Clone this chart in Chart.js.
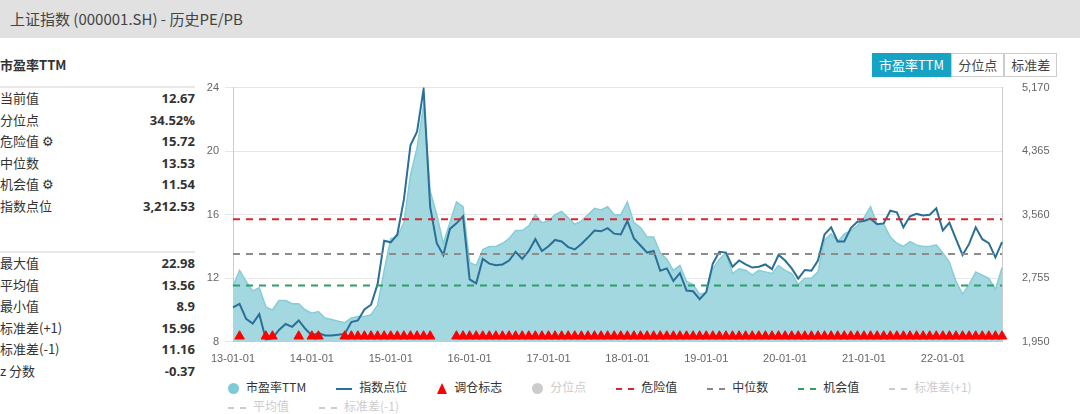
<!DOCTYPE html>
<html>
<head>
<meta charset="utf-8">
<script src="https://cdn.jsdelivr.net/npm/chart.js@4"></script>
<style>
  body { margin:0; width:1080px; height:414px; position:relative; background:#fff; font-family:"Noto Sans CJK SC","Open Sans",sans-serif; color:#333; overflow:hidden; }
  .hdr { position:absolute; left:0; top:0; width:1080px; height:38px; background:#e1e1e1; font-size:15px; line-height:38px; padding-left:10px; box-sizing:border-box; color:#444; }
  .title { position:absolute; left:0; top:55px; font-size:13px; font-weight:bold; }
  .row { position:absolute; left:0; width:195px; font-size:13px; height:20px; line-height:20px; }
  .row b { position:absolute; right:0; font-weight:bold; font-family:"Open Sans",sans-serif; }
  .sep { position:absolute; left:0; width:195px; border-top:2px solid #e8e8e8; }
  .btns { position:absolute; left:872px; top:53px; display:flex; font-size:13px; }
  .btns div { border:1px solid #ccc; height:22px; line-height:22px; padding:0 6px; color:#444; }
  .btns .on { background:#17a3c4; color:#fff; border-color:#17a3c4; }
  #wrap { position:absolute; left:200px; top:69px; width:880px; height:300px; }
  .legend { position:absolute; left:228px; top:377px; width:840px; font-size:12px; }
  .legend > span { display:inline-block; margin-right:30px; height:19px; line-height:19px; }
  .mk { display:inline-block; vertical-align:middle; margin-right:7px; }
</style>
</head>
<body>
<div class="hdr">上证指数 (000001.SH) - 历史PE/PB</div>
<div class="title">市盈率TTM</div>
<div class="sep" style="top:86px"></div>
<div class="sep" style="top:251px"></div>
<div id="stats"></div>
<div class="btns"><div class="on">市盈率TTM</div><div>分位点</div><div>标准差</div></div>
<div id="wrap"><canvas id="c"></canvas></div>
<div class="legend" id="legend"></div>
<script>
const labels = [];
for (let y = 13; y <= 22; y++) for (let m = 1; m <= 12; m++) {
  if (y === 22 && m > 10) break;
  labels.push(y + '-' + String(m).padStart(2, '0') + '-01');
}

const peValues = [
  11.5, 12.5, 11.8, 11.2, 11.4, 10.2, 10.0, 10.6, 10.6, 10.4, 10.4, 10.0,
  9.8, 9.9, 9.5, 9.4, 9.3, 9.2, 9.5, 9.6, 9.6, 9.7, 10.3, 12.5,
  14.5, 14.6, 15.5, 18.5, 20.2, 22.9, 17.5, 16.0, 14.2, 15.5, 16.8, 16.5,
  13.0, 12.8, 13.8, 14.0, 14.0, 14.2, 14.5, 15.0, 15.0, 15.3, 16.0, 15.5,
  15.6, 16.0, 16.2, 15.8, 15.4, 15.6, 16.0, 16.4, 16.3, 16.5, 16.0, 16.0,
  16.8, 15.5, 15.2, 14.6, 14.6, 13.6, 13.2, 12.5, 12.8, 11.8, 11.6, 11.0,
  11.1, 12.6, 13.2, 13.6, 12.3, 12.6, 12.5, 12.2, 12.5, 12.4, 12.3, 12.8,
  12.5, 12.3, 11.6, 12.0, 12.0, 12.4, 14.4, 14.8, 14.3, 14.8, 15.0, 15.3,
  15.8, 16.5, 15.4, 15.4, 14.6, 14.2, 14.0, 14.3, 14.1, 14.0, 14.0, 14.1,
  13.6, 13.0, 11.8, 11.0, 11.6, 12.4, 12.2, 12.0, 11.3, 12.67
];

const indexValues = [
  2385, 2430, 2240, 2180, 2300, 1980, 1995, 2100, 2175, 2140, 2220, 2115,
  2030, 2060, 2030, 2030, 2040, 2050, 2200, 2220, 2360, 2420, 2680, 3230,
  3210, 3310, 3750, 4440, 4610, 5150, 3660, 3200, 3050, 3380, 3450, 3540,
  2740, 2690, 3000, 2940, 2920, 2930, 2980, 3090, 3000, 3100, 3250, 3100,
  3160, 3240, 3220, 3150, 3120, 3190, 3270, 3360, 3350, 3390, 3320, 3310,
  3480, 3260, 3170, 3080, 3100, 2850, 2880, 2720, 2820, 2600, 2590, 2490,
  2580, 2940, 3090, 3080, 2900, 2980, 2930, 2890, 2900, 2930, 2870, 3050,
  2980, 2880, 2750, 2860, 2850, 2980, 3310, 3400, 3220, 3220, 3390, 3470,
  3480, 3510, 3440, 3450, 3610, 3590, 3400, 3540, 3570, 3550, 3560, 3640,
  3360, 3460, 3250, 3050, 3190, 3400, 3250, 3200, 3020, 3212.53
];

// months with a rebalancing mark (index into labels)
const signalMonths = [1, 5, 6, 10, 12, 13, 17, 18, 19, 20, 21, 22, 23, 24, 25, 26, 27, 28, 29, 30, 34, 35, 36];
for (let i = 37; i < 118; i++) signalMonths.push(i);

const dangerValue = 15.72, medianValue = 13.53, chanceValue = 11.54;
const peTicks = [8, 12, 16, 20, 24];
const indexTicks = [1950, 2755, 3560, 4365, 5170];

const statsTop = [['当前值', '12.67'], ['分位点', '34.52%'], ['危险值 ⚙', '15.72'], ['中位数', '13.53'], ['机会值 ⚙', '11.54'], ['指数点位', '3,212.53']];
const statsBottom = [['最大值', '22.98'], ['平均值', '13.56'], ['最小值', '8.9'], ['标准差(+1)', '15.96'], ['标准差(-1)', '11.16'], ['z 分数', '-0.37']];

let html = '';
statsTop.forEach((r, i) => html += `<div class="row" style="top:${88 + i * 21.6}px">${r[0]}<b>${r[1]}</b></div>`);
statsBottom.forEach((r, i) => html += `<div class="row" style="top:${253 + i * 21.6}px">${r[0]}<b>${r[1]}</b></div>`);
document.getElementById('stats').innerHTML = html;

const dash = (c) => `<i class="mk" style="width:18px;border-top:2px dashed ${c}"></i>`;
const legendItems = [
  ['<i class="mk" style="width:11px;height:11px;border-radius:50%;background:#7fcad6"></i>', '市盈率TTM', '#333'],
  ['<i class="mk" style="width:16px;border-top:2px solid #2a6f97"></i>', '指数点位', '#333'],
  ['<i class="mk" style="width:0;height:0;border-left:5px solid transparent;border-right:5px solid transparent;border-bottom:11px solid #f00"></i>', '调仓标志', '#333'],
  ['<i class="mk" style="width:11px;height:11px;border-radius:50%;background:#ccc"></i>', '分位点', '#ccc'],
  [dash('#d9262e'), '危险值', '#333'],
  [dash('#888'), '中位数', '#333'],
  [dash('#2e9e6b'), '机会值', '#333'],
  [dash('#ccc'), '标准差(+1)', '#ccc'],
  [dash('#ccc'), '平均值', '#ccc'],
  [dash('#ccc'), '标准差(-1)', '#ccc']
];
document.getElementById('legend').innerHTML = legendItems.map(l => `<span style="color:${l[2]}">${l[0]}${l[1]}</span>`).join('');

const flat = (v) => labels.map(() => v);
const signalData = labels.map((_, i) => signalMonths.includes(i) ? 8.35 : null);

new Chart(document.getElementById('c').getContext('2d'), {
  type: 'line',
  data: {
    labels: labels,
    datasets: [
      { label: '调仓标志', data: signalData, showLine: false, pointStyle: 'triangle', pointRadius: 5.5, pointBackgroundColor: '#f00', pointBorderColor: '#f00', yAxisID: 'y', order: 0 },
      { label: '危险值', data: flat(dangerValue), borderColor: '#d9262e', borderDash: [7, 6], borderWidth: 2, pointRadius: 0, yAxisID: 'y', order: 1 },
      { label: '中位数', data: flat(medianValue), borderColor: '#8c8c8c', borderDash: [7, 6], borderWidth: 2, pointRadius: 0, yAxisID: 'y', order: 1 },
      { label: '机会值', data: flat(chanceValue), borderColor: '#2e9e6b', borderDash: [7, 6], borderWidth: 2, pointRadius: 0, yAxisID: 'y', order: 1 },
      { label: '指数点位', data: indexValues, borderColor: '#2a6f97', borderWidth: 2, pointRadius: 0, tension: 0, yAxisID: 'y1', order: 2 },
      { label: '市盈率TTM', data: peValues, borderColor: '#86cdd8', backgroundColor: '#a3d8e0', fill: 'start', borderWidth: 1.5, pointRadius: 0, yAxisID: 'y', order: 3 }
    ]
  },
  options: {
    responsive: true,
    maintainAspectRatio: false,
    animation: false,
    layout: { padding: { top: 0, bottom: 0 } },
    plugins: { legend: { display: false }, tooltip: { enabled: false } },
    scales: {
      x: {
        offset: false,
        grid: { display: false },
        border: { color: '#ccc' },
        ticks: {
          autoSkip: false, maxRotation: 0, color: '#666', font: { size: 11 },
          callback: function (v, i) { return labels[i].slice(3, 5) === '01' ? labels[i] : null; }
        }
      },
      y: {
        min: 8, max: 24,
        afterFit: (s) => { s.width = 33; },
        afterBuildTicks: (s) => { s.ticks = peTicks.map(v => ({ value: v })); },
        grid: { color: '#e6e6e6' },
        border: { color: '#ccc' },
        ticks: { color: '#666', font: { size: 11 }, padding: 6 }
      },
      y1: {
        position: 'right', min: 1950, max: 5170,
        afterFit: (s) => { s.width = 78; },
        afterBuildTicks: (s) => { s.ticks = indexTicks.map(v => ({ value: v })); },
        grid: { display: false },
        border: { color: '#ccc' },
        ticks: { color: '#666', font: { size: 11 }, padding: 12, callback: (v) => v.toLocaleString('en-US') }
      }
    }
  }
});
</script>
</body>
</html>
